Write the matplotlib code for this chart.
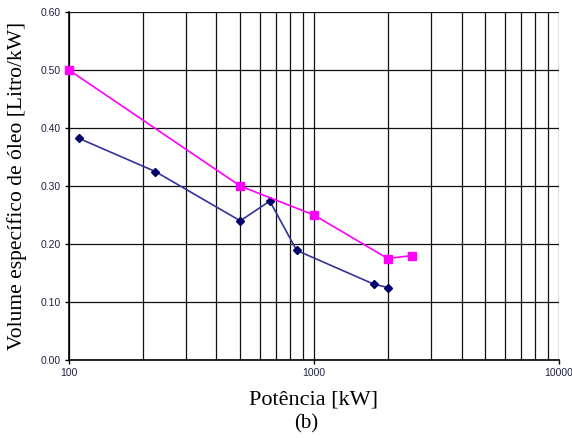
import matplotlib.pyplot as plt
from matplotlib.ticker import FixedLocator, FixedFormatter, LogLocator, NullFormatter

# series
blue_kw = [110, 225, 500, 660, 850, 1750, 2000]
blue_vol = [0.382, 0.325, 0.24, 0.274, 0.189, 0.131, 0.125]
pink_kw = [100, 500, 1000, 2000, 2500]
pink_vol = [0.50, 0.30, 0.25, 0.175, 0.18]

x_ticks = [100, 1000, 10000]
x_labels = ['100', '1000', '10000']
y_ticks = [0.0, 0.1, 0.2, 0.3, 0.4, 0.5, 0.6]

fig = plt.figure(figsize=(5.72, 4.38), dpi=100)
ax = fig.add_axes([0.1206, 0.178, 0.8567, 0.7946])

ax.plot(blue_kw, blue_vol, color='#333399', lw=1.2, marker='D', ms=4.5,
        mfc='#000066', mec='#000066', clip_on=False, zorder=3)
ax.plot(pink_kw, pink_vol, color='#FF00FF', lw=1.2, marker='s', ms=6,
        mfc='#FF00FF', mec='#FF00FF', clip_on=False, zorder=3)

ax.set_xscale('log')
ax.set_xlim(100, 10000)
ax.set_ylim(0, 0.6)

ax.xaxis.set_major_locator(FixedLocator(x_ticks))
ax.xaxis.set_major_formatter(FixedFormatter(x_labels))
ax.xaxis.set_minor_locator(LogLocator(base=10, subs=range(2, 10)))
ax.xaxis.set_minor_formatter(NullFormatter())
ax.set_yticks(y_ticks)
ax.set_yticklabels(['%.2f' % v for v in y_ticks])

ax.grid(True, which='both', axis='x', color='#111111', lw=0.9)
ax.grid(True, which='major', axis='y', color='#111111', lw=0.9)
ax.set_axisbelow(True)

for s in ['top', 'right']:
    ax.spines[s].set_visible(False)
for s in ['left', 'bottom']:
    ax.spines[s].set_linewidth(1.2)

ax.tick_params(axis='both', which='major', labelsize=7.5, length=3, width=1,
               direction='out', pad=3)
ax.tick_params(axis='x', which='minor', length=0)
for lbl in ax.get_xticklabels() + ax.get_yticklabels():
    lbl.set_family('Liberation Sans')
    lbl.set_color('#222244')

ax.set_xlabel('Potência [kW]', family='Liberation Serif', fontsize=16,
              labelpad=9)
ax.set_ylabel('Volume específico de óleo [Litro/kW]', family='Liberation Serif',
              fontsize=15.5, labelpad=10)
fig.text(0.536, 0.032, '(b)', family='Liberation Serif', fontsize=15,
         ha='center', va='center')

fig.savefig('out.png', dpi=100)
